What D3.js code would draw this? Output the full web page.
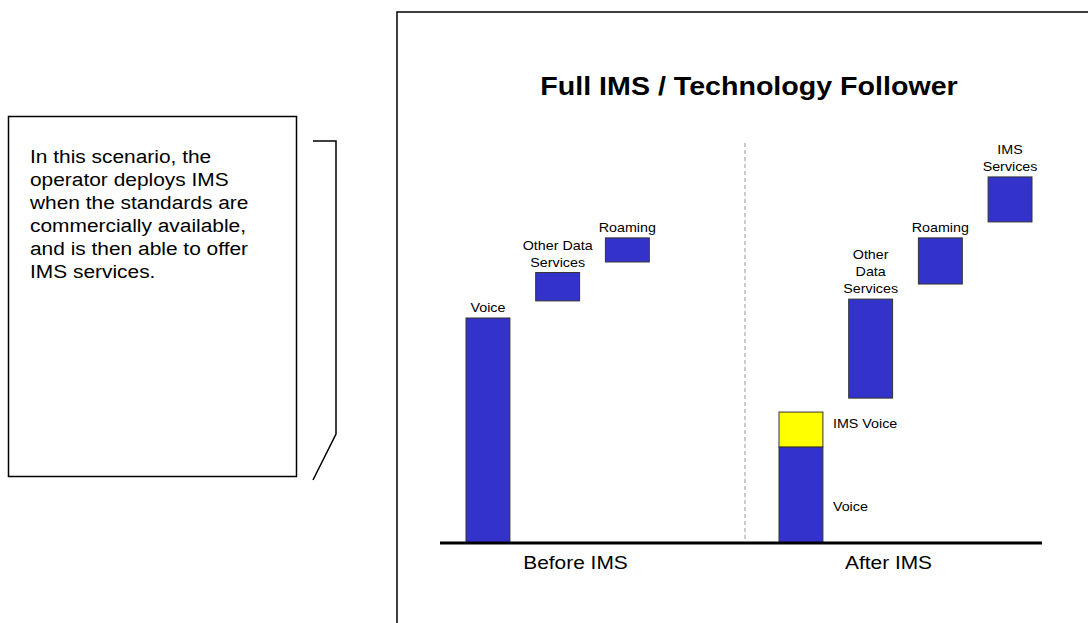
<!DOCTYPE html>
<html>
<head>
<meta charset="utf-8">
<script src="https://cdn.jsdelivr.net/npm/d3@7"></script>
<style>
  html, body { margin: 0; padding: 0; background: #fff; }
  svg { display: block; font-family: "Liberation Sans", Arial, Helvetica, sans-serif; }
</style>
</head>
<body>
<svg id="chart" width="1088" height="623"></svg>
<script>
// Scenario groups along the x axis
const groups = ["Before IMS", "After IMS"];

// Revenue segments (floating bars), one entry per segment
const segmentNames = ["Voice", "Other Data Services", "Roaming", "Voice", "IMS Voice", "Other Data Services", "Roaming", "IMS Services"];
const segmentGroup = ["Before IMS", "Before IMS", "Before IMS", "After IMS", "After IMS", "After IMS", "After IMS", "After IMS"];
const segmentSlot  = [0, 1, 2, 0, 0, 1, 2, 3];
const segmentStart = [0, 107.6, 124.9, 0, 42.7, 64.4, 115.1, 142.7];
const segmentEnd   = [100, 120.2, 135.6, 42.7, 58.2, 108.4, 135.6, 162.7];
const segmentType  = ["legacy", "legacy", "legacy", "legacy", "ims-voice", "legacy", "legacy", "legacy"];

// Label text for each segment, split into lines
const segmentLabels = [
  ["Voice"],
  ["Other Data", "Services"],
  ["Roaming"],
  ["Voice"],
  ["IMS Voice"],
  ["Other", "Data", "Services"],
  ["Roaming"],
  ["IMS", "Services"]
];

const titleText = "Full IMS / Technology Follower";
const noteLines = [
  "In this scenario, the",
  "operator deploys IMS",
  "when the standards are",
  "commercially available,",
  "and is then able to offer",
  "IMS services."
];

const segments = segmentNames.map((name, i) => ({
  name,
  group: segmentGroup[i],
  slot: segmentSlot[i],
  start: segmentStart[i],
  end: segmentEnd[i],
  type: segmentType[i],
  label: segmentLabels[i]
}));

const svg = d3.select("#chart");
const SX = 1.1; // horizontal text stretch

// Scales
const xGroup = d3.scaleBand().domain(groups).range([419, 1045]);
const xSlot = d3.scaleBand().domain([0, 1, 2, 3]).range([47, 300]).paddingInner(0.37);
const y = d3.scaleLinear().domain([0, 100]).range([543, 318]);
const color = d3.scaleOrdinal().domain(["legacy", "ims-voice"]).range(["#3333CC", "#FFFF00"]);

const barX = d => xGroup(d.group) + xSlot(d.slot);
const bw = xSlot.bandwidth();

function stretchedText(sel, x, yPos, txt, size, weight, anchor) {
  return sel.append("text")
    .attr("transform", `translate(${x},${yPos}) scale(${SX},1)`)
    .attr("text-anchor", anchor || "middle")
    .attr("font-size", size)
    .attr("font-weight", weight || "normal")
    .attr("fill", "#000")
    .text(txt);
}

// ---- Note box on the left ----
const note = svg.append("g");
note.append("rect")
  .attr("x", 8.5).attr("y", 116.5)
  .attr("width", 288).attr("height", 360)
  .attr("fill", "#fff").attr("stroke", "#000").attr("stroke-width", 1.5);
noteLines.forEach((line, i) => {
  stretchedText(note, 30, 163 + i * 23, line, 19, "normal", "start");
});
// bracket pointing to the chart
note.append("path")
  .attr("d", "M313,141 L336,141 L336,434 L313,480")
  .attr("fill", "none").attr("stroke", "#000").attr("stroke-width", 1.5);

// ---- Chart frame ----
svg.append("path")
  .attr("d", "M397,623 L397,12 L1088,12")
  .attr("fill", "none").attr("stroke", "#000").attr("stroke-width", 1.5);

// Title
stretchedText(svg, 749, 95, titleText, 26, "bold", "middle");

// Divider between scenarios
svg.append("line")
  .attr("x1", 745).attr("x2", 745)
  .attr("y1", 143).attr("y2", 541)
  .attr("stroke", "#999").attr("stroke-width", 1)
  .attr("stroke-dasharray", "4,3");

// Bars
svg.append("g").selectAll("rect")
  .data(segments)
  .join("rect")
  .attr("x", d => barX(d))
  .attr("y", d => y(d.end))
  .attr("width", bw)
  .attr("height", d => y(d.start) - y(d.end))
  .attr("fill", d => color(d.type))
  .attr("stroke", "#333")
  .attr("stroke-width", 1);

// Segment labels: stacked segments get labels to the right, floating ones above
const stackCount = d3.rollup(segments, v => v.length, d => d.group + "|" + d.slot);
const sideDy = { "IMS Voice": -5, "Voice": 12 };
const labelLayer = svg.append("g");
segments.forEach(d => {
  const stacked = stackCount.get(d.group + "|" + d.slot) > 1;
  if (stacked) {
    const midY = (y(d.start) + y(d.end)) / 2 + 4 + (sideDy[d.name] || 0);
    stretchedText(labelLayer, barX(d) + bw + 10, midY, d.label.join(" "), 13, "normal", "start");
  } else {
    const top = y(d.end) - 6;
    const n = d.label.length;
    d.label.forEach((line, i) => {
      stretchedText(labelLayer, barX(d) + bw / 2, top - (n - 1 - i) * 17, line, 13, "normal", "middle");
    });
  }
});

// Baseline
svg.append("line")
  .attr("x1", 440).attr("x2", 1042)
  .attr("y1", 543).attr("y2", 543)
  .attr("stroke", "#000").attr("stroke-width", 3);

// Category axis labels
const axis = d3.axisBottom(xGroup).tickSize(0).tickPadding(0);
const axisG = svg.append("g")
  .attr("transform", "translate(0,543)")
  .call(axis);
axisG.select(".domain").remove();
axisG.selectAll(".tick text")
  .attr("y", 26)
  .attr("dy", 0)
  .attr("font-size", 19)
  .attr("font-family", "'Liberation Sans', Arial, sans-serif")
  .attr("fill", "#000")
  .attr("transform", `scale(${SX},1)`);
</script>
</body>
</html>
